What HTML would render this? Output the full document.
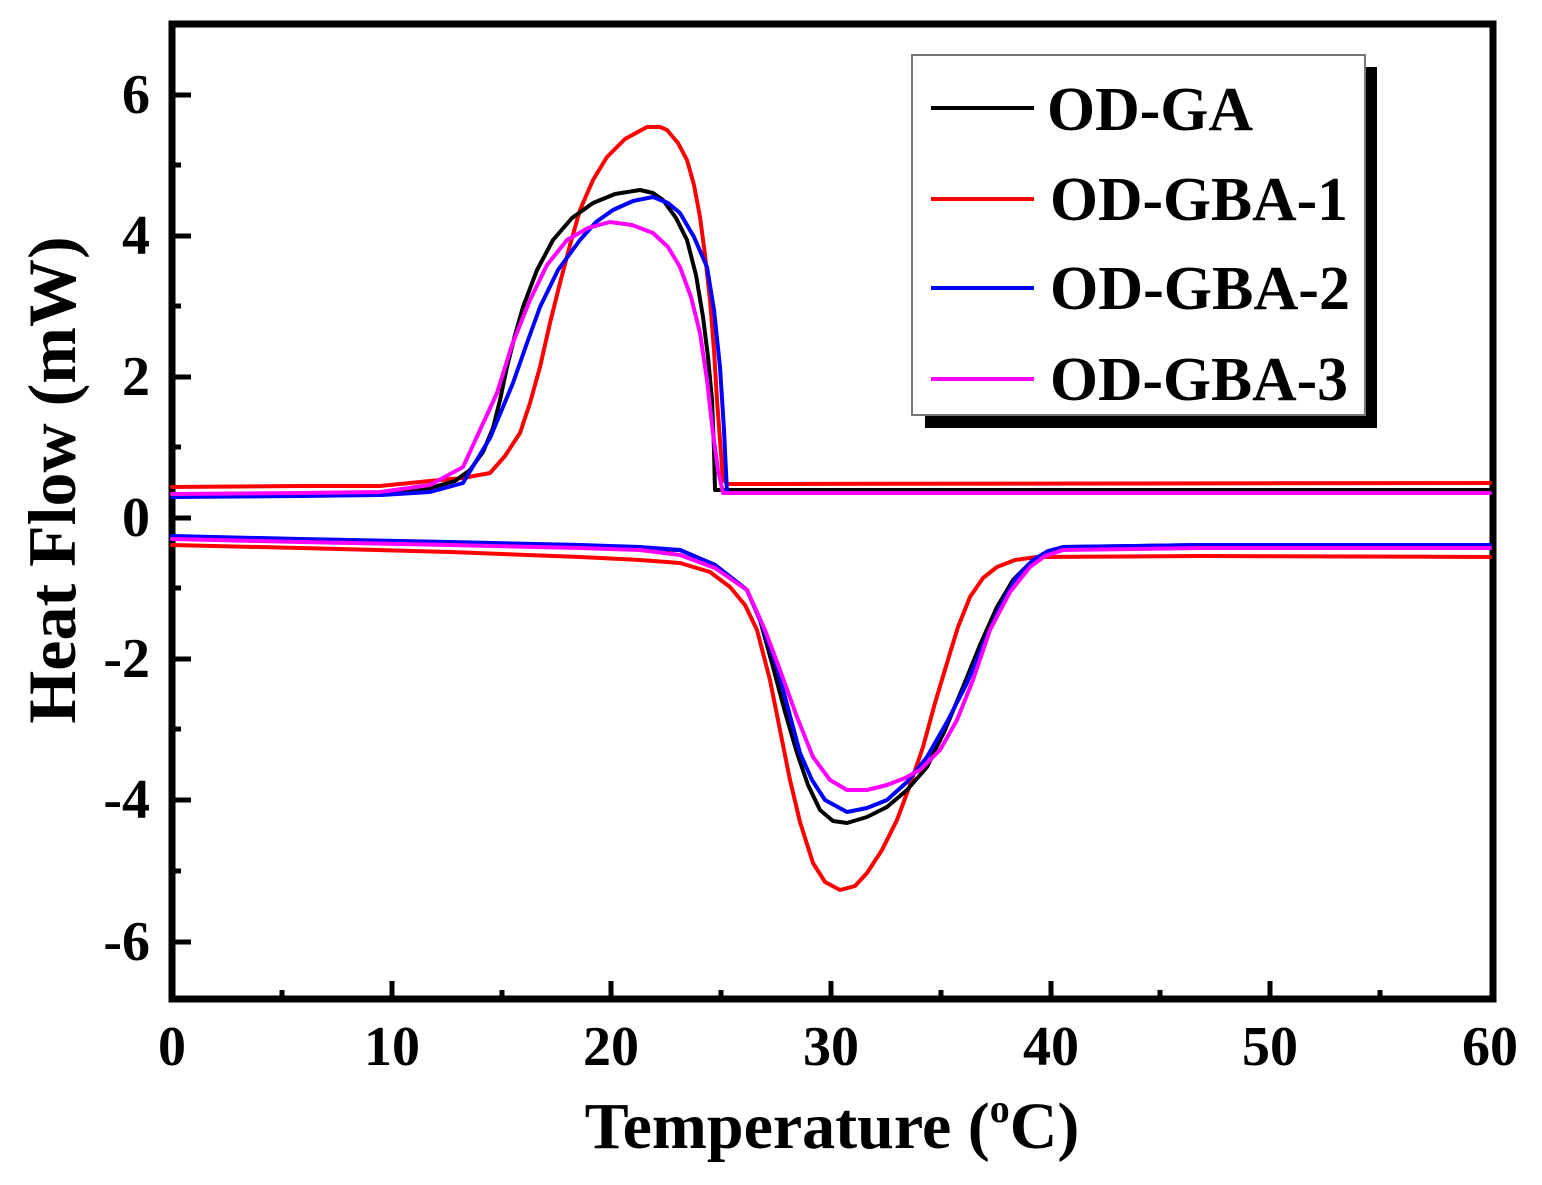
<!DOCTYPE html>
<html><head><meta charset="utf-8"><style>
html,body{margin:0;padding:0;background:#fff;}
svg{display:block;}
text{font-family:"Liberation Serif",serif;font-weight:bold;fill:#000;}
</style></head><body>
<svg width="1542" height="1185" viewBox="0 0 1542 1185" xmlns="http://www.w3.org/2000/svg">
<rect width="1542" height="1185" fill="#fff"/>
<rect x="172" y="24" width="1321" height="975" fill="none" stroke="#000" stroke-width="7"/>
<g stroke="#000" stroke-width="5">
<line x1="172" y1="95" x2="191" y2="95"/>
<line x1="172" y1="236" x2="191" y2="236"/>
<line x1="172" y1="377" x2="191" y2="377"/>
<line x1="172" y1="518" x2="191" y2="518"/>
<line x1="172" y1="659" x2="191" y2="659"/>
<line x1="172" y1="800" x2="191" y2="800"/>
<line x1="172" y1="942" x2="191" y2="942"/>
<line x1="172" y1="165" x2="181" y2="165"/>
<line x1="172" y1="306" x2="181" y2="306"/>
<line x1="172" y1="447" x2="181" y2="447"/>
<line x1="172" y1="588" x2="181" y2="588"/>
<line x1="172" y1="729" x2="181" y2="729"/>
<line x1="172" y1="871" x2="181" y2="871"/>
<line x1="392" y1="999" x2="392" y2="981"/>
<line x1="611" y1="999" x2="611" y2="981"/>
<line x1="831" y1="999" x2="831" y2="981"/>
<line x1="1051" y1="999" x2="1051" y2="981"/>
<line x1="1270" y1="999" x2="1270" y2="981"/>
<line x1="282" y1="999" x2="282" y2="990"/>
<line x1="502" y1="999" x2="502" y2="990"/>
<line x1="721" y1="999" x2="721" y2="990"/>
<line x1="941" y1="999" x2="941" y2="990"/>
<line x1="1160" y1="999" x2="1160" y2="990"/>
<line x1="1380" y1="999" x2="1380" y2="990"/>
</g>
<g font-size="56" text-anchor="end">
<text x="150" y="113">6</text>
<text x="150" y="254">4</text>
<text x="150" y="395">2</text>
<text x="150" y="536">0</text>
<text x="150" y="677">-2</text>
<text x="150" y="818">-4</text>
<text x="150" y="960">-6</text>
</g>
<g font-size="56" text-anchor="middle">
<text x="172" y="1065">0</text>
<text x="392" y="1065">10</text>
<text x="611" y="1065">20</text>
<text x="831" y="1065">30</text>
<text x="1051" y="1065">40</text>
<text x="1270" y="1065">50</text>
<text x="1490" y="1065">60</text>
</g>
<text x="832" y="1148" font-size="66" text-anchor="middle">Temperature (<tspan font-size="40" dy="-26">o</tspan><tspan dy="26">C)</tspan></text>
<text transform="translate(75,480) rotate(-90)" font-size="68" text-anchor="middle">Heat Flow (mW)</text>

<g fill="none" stroke-width="4" stroke-linejoin="round" stroke-linecap="round">
<polyline stroke="#ff0000" points="172,545 300,548 450,552 580,557 640,560 680,563 710,572 730,587 745,605 757,630 770,680 780,730 790,780 800,822 813,863 825,882 840,890 855,886 867,873 882,850 897,820 910,785 923,747 935,703 947,663 958,627 970,597 983,578 997,567 1015,560 1037,557 1200,556 1490,557"/>
<polyline stroke="#000" points="172,538 300,541 450,544 580,547 640,549 680,550 715,565 747,590 760,620 773,667 785,712 797,753 808,785 820,810 833,821 847,823 867,817 887,807 907,790 927,767 945,730 963,687 980,645 997,607 1013,580 1030,563 1045,553 1063,547 1200,545 1490,545"/>
<polyline stroke="#0000ff" points="172,536 300,539 450,542 580,545 640,547 680,550 715,565 747,590 762,625 777,667 789,712 800,753 812,780 825,800 847,812 867,808 887,800 907,782 927,757 947,722 967,683 983,645 1000,607 1016,578 1033,560 1048,551 1063,547 1200,545 1490,545"/>
<polyline stroke="#ff00ff" points="172,539 300,542 450,545 580,548 640,550 680,555 715,568 747,590 765,630 780,670 797,717 813,757 830,780 847,790 867,790 887,785 905,778 920,770 940,750 957,720 973,680 990,630 1010,592 1030,567 1045,556 1063,550 1200,548 1490,548"/>
<polyline stroke="#ff0000" points="172,487 300,486 380,486 430,481 463,478 490,473 505,456 520,433 530,403 540,367 550,323 560,283 570,245 580,210 593,180 607,157 625,139 647,127 660,127 667,130 678,143 687,160 694,185 700,217 705,255 710,300 714,350 717,400 720,440 723,480 728,484 1490,483"/>
<polyline stroke="#000" points="172,495 300,494 380,493 430,488 455,481 470,470 483,452 493,428 500,400 507,367 515,335 523,307 537,270 553,240 572,218 593,203 615,194 640,190 653,193 663,200 676,218 687,240 696,275 703,317 708,357 712,400 714,450 715,490 1490,490"/>
<polyline stroke="#0000ff" points="172,497 300,496 380,495 430,492 463,483 490,438 513,383 527,343 540,307 558,270 580,240 596,222 613,210 633,201 653,197 668,203 680,213 694,237 707,267 714,310 720,367 724,430 727,493 1490,493"/>
<polyline stroke="#ff00ff" points="172,494 300,493 380,492 430,485 463,467 480,430 497,393 512,345 530,300 547,265 567,240 588,228 610,222 632,225 653,233 668,247 680,267 691,297 700,333 707,380 713,433 718,470 723,493 1490,493"/>
</g>

<rect x="925" y="67" width="452" height="361" fill="#000"/>
<rect x="912" y="55" width="453" height="360" fill="#fff" stroke="#777" stroke-width="2"/>
<g stroke-width="4">
<line x1="931" y1="108" x2="1034" y2="108" stroke="#000"/>
<line x1="931" y1="199" x2="1034" y2="199" stroke="#ff0000"/>
<line x1="931" y1="288" x2="1034" y2="288" stroke="#0000ff"/>
<line x1="931" y1="379" x2="1034" y2="379" stroke="#ff00ff"/>
</g>
<g font-size="62">
<text x="1047" y="130" textLength="206" lengthAdjust="spacingAndGlyphs">OD-GA</text>
<text x="1050" y="220" textLength="298" lengthAdjust="spacingAndGlyphs">OD-GBA-1</text>
<text x="1050" y="309" textLength="300" lengthAdjust="spacingAndGlyphs">OD-GBA-2</text>
<text x="1050" y="400" textLength="298" lengthAdjust="spacingAndGlyphs">OD-GBA-3</text>
</g>
</svg>
</body></html>
